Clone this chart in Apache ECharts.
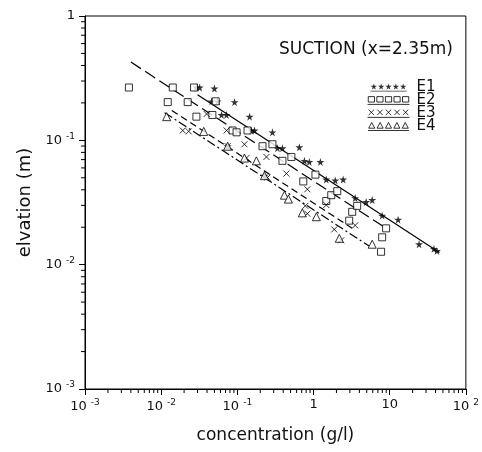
<!DOCTYPE html>
<html>
<head>
<meta charset="utf-8">
<script src="https://cdn.jsdelivr.net/npm/echarts@6/dist/echarts.min.js"></script>
<style>
  html, body { margin: 0; padding: 0; background: #fff; }
  #chart { width: 482px; height: 452px; }
</style>
</head>
<body>
<div id="chart"></div>
<script>
// Suction profile: elevation vs. concentration, four experiments (log-log)
const xTickValues = [0.001, 0.01, 0.1, 1, 10, 100];
const yTickValues = [0.001, 0.01, 0.1, 1];

const e1Conc = [0.029, 0.032, 0.050, 0.046, 0.055, 0.092, 0.062, 0.072, 0.145, 0.153, 0.168, 0.289, 0.0745, 0.336, 0.391, 0.652, 0.227, 0.759, 0.88, 1.23, 1.47, 1.93, 2.45, 3.52, 4.91, 5.89, 7.96, 12.9, 24.3, 38.1, 41.7];
const e1Elev = [0.266, 0.266, 0.261, 0.206, 0.206, 0.203, 0.160, 0.160, 0.155, 0.120, 0.120, 0.116, 0.0897, 0.0865, 0.0865, 0.088, 0.052, 0.0684, 0.067, 0.067, 0.0484, 0.0476, 0.0484, 0.0343, 0.0319, 0.0331, 0.0248, 0.0230, 0.0146, 0.0134, 0.0129];

const e2Conc = [0.00377, 0.0142, 0.027, 0.0122, 0.0223, 0.052, 0.029, 0.047, 0.0865, 0.0977, 0.136, 0.214, 0.289, 0.391, 0.512, 0.734, 1.06, 1.47, 1.71, 2.05, 3.22, 3.74, 2.94, 8.97, 7.96, 7.71];
const e2Elev = [0.266, 0.266, 0.266, 0.203, 0.203, 0.206, 0.155, 0.160, 0.120, 0.116, 0.120, 0.0897, 0.0930, 0.0684, 0.0735, 0.0467, 0.053, 0.0325, 0.0362, 0.039, 0.0266, 0.0297, 0.0226, 0.0196, 0.0166, 0.0127];

const e3Conc = [0.0395, 0.0192, 0.0230, 0.0723, 0.124, 0.241, 0.132, 0.248, 0.441, 0.83, 1.47, 0.78, 0.83, 3.52, 1.87, 2.31, 0.0745];
const e3Elev = [0.163, 0.120, 0.118, 0.120, 0.093, 0.0735, 0.0722, 0.0502, 0.054, 0.0404, 0.0302, 0.0297, 0.0257, 0.0207, 0.0192, 0.0157, 0.0897];

const e4Conc = [0.0118, 0.0362, 0.0745, 0.124, 0.178, 0.227, 0.415, 0.468, 0.713, 1.09, 2.18, 5.89];
const e4Elev = [0.155, 0.118, 0.0897, 0.072, 0.0684, 0.052, 0.0362, 0.0337, 0.0261, 0.0243, 0.0163, 0.0146];

// Power-law fit lines, given by their end points
const fitE1Conc = [0.03, 45];
const fitE1Elev = [0.233, 0.0125];
const fitE2Conc = [0.004, 9.0];
const fitE2Elev = [0.426, 0.0196];
const fitE3Conc = [0.0138, 3.22];
const fitE3Elev = [0.174, 0.0196];
const fitE4Conc = [0.0111, 5.37];
const fitE4Elev = [0.167, 0.0141];

const pairs = (xs, ys) => xs.map((x, i) => [x, ys[i]]);

const STAR = 'path://M50,0 L61,35 L98,35 L68,57 L79,91 L50,70 L21,91 L32,57 L2,35 L39,35 Z';
const CROSS = 'path://M0,0 L10,10 M10,0 L0,10';
const TRI = 'path://M5,0 L10,9 L0,9 Z';

// legend keys: five markers above an underline
function rowOf(shape, filled) {
  let p = 'path://';
  for (let i = 0; i < 5; i++) {
    const o = i * 22;
    if (shape === 'star') {
      p += `M${o + 10},0 L${o + 12.2},7 L${o + 19.6},7 L${o + 13.6},11.4 L${o + 15.8},18.2 L${o + 10},14 L${o + 4.2},18.2 L${o + 6.4},11.4 L${o + 0.4},7 L${o + 7.8},7 Z `;
    } else if (shape === 'square') {
      p += `M${o + 2},3 L${o + 18},3 L${o + 18},17 L${o + 2},17 Z `;
    } else if (shape === 'cross') {
      p += `M${o + 3},3 L${o + 17},17 M${o + 17},3 L${o + 3},17 `;
    } else {
      p += `M${o + 10},2 L${o + 18},17 L${o + 2},17 Z `;
    }
  }
  p += filled ? 'M0,22 L108,22 L108,24 L0,24 Z' : 'M0,23 L108,23';
  return p;
}

const superscripts = { b: { fontSize: 13, fontFamily: 'DejaVu Sans', color: '#111' }, s: { fontSize: 9, fontFamily: 'DejaVu Sans', color: '#111', verticalAlign: 'top', padding: [0, 0, 8, 4] } };
function powLabel(v) {
  const e = Math.round(Math.log10(v));
  if (e === 0) return '{b|1}';
  if (e === 1) return '{b|10}';
  return '{b|10}{s|' + e + '}';
}

const chart = echarts.init(document.getElementById('chart'), null, { renderer: 'canvas' });

const scatterBase = { type: 'scatter', symbolSize: 7, z: 3 };
const openStyle = { color: '#fff', borderColor: '#000', borderWidth: 1 };

const option = {
  backgroundColor: '#fff',
  animation: false,
  grid: { left: 85, right: 15, top: 16, bottom: 63, show: true, borderColor: '#000', borderWidth: 1 },
  title: {
    text: 'SUCTION (x=2.35m)',
    left: 274, top: 36,
    textStyle: { fontFamily: 'DejaVu Sans', fontSize: 17, fontWeight: 'normal', color: '#111' }
  },
  legend: {
    orient: 'vertical',
    left: 362, top: 75,
    itemWidth: 42, itemHeight: 8, itemGap: -2,
    textStyle: { fontFamily: 'DejaVu Sans', fontSize: 15, lineHeight: 13, color: '#111', padding: [0, 0, 0, 2] },
    data: [
      { name: 'E1', icon: rowOf('star', true), itemStyle: { color: '#000', borderWidth: 0 } },
      { name: 'E2', icon: rowOf('square', false), itemStyle: { color: 'transparent', borderColor: '#000', borderWidth: 1 } },
      { name: 'E3', icon: rowOf('cross', false), itemStyle: { color: 'transparent', borderColor: '#000', borderWidth: 1 } },
      { name: 'E4', icon: rowOf('tri', false), itemStyle: { color: 'transparent', borderColor: '#000', borderWidth: 1 } }
    ]
  },
  xAxis: {
    type: 'log', logBase: 10, min: xTickValues[0], max: xTickValues[xTickValues.length - 1],
    name: 'concentration (g/l)', nameLocation: 'middle', nameGap: 38,
    nameTextStyle: { fontFamily: 'DejaVu Sans', fontSize: 17, color: '#111' },
    axisLine: { lineStyle: { color: '#000', width: 1 } },
    axisTick: { inside: false, length: 6, lineStyle: { color: '#000' } },
    axisLabel: { margin: 9, formatter: powLabel, rich: superscripts, showMinLabel: true, showMaxLabel: true },
    splitLine: { show: false }
  },
  yAxis: {
    type: 'log', logBase: 10, min: yTickValues[0], max: yTickValues[yTickValues.length - 1],
    name: 'elvation (m)', nameLocation: 'middle', nameGap: 48, nameRotate: 90,
    nameTextStyle: { fontFamily: 'DejaVu Sans', fontSize: 18, color: '#111' },
    axisLine: { lineStyle: { color: '#000', width: 1 } },
    axisTick: { inside: false, length: 6, lineStyle: { color: '#000' } },
    axisLabel: { margin: 10, formatter: powLabel, rich: superscripts },
    splitLine: { show: false }
  },
  series: [
    Object.assign({}, scatterBase, { name: 'E1', symbol: STAR, symbolSize: 8, itemStyle: { color: '#000' }, data: pairs(e1Conc, e1Elev) }),
    Object.assign({}, scatterBase, { name: 'E2', symbol: 'rect', itemStyle: openStyle, data: pairs(e2Conc, e2Elev) }),
    Object.assign({}, scatterBase, { name: 'E3', symbol: CROSS, symbolSize: 6, itemStyle: { color: 'transparent', borderColor: '#000', borderWidth: 1 }, data: pairs(e3Conc, e3Elev) }),
    Object.assign({}, scatterBase, { name: 'E4', symbol: TRI, symbolSize: 8, itemStyle: openStyle, data: pairs(e4Conc, e4Elev) }),
    { type: 'line', name: 'fitE1', data: pairs(fitE1Conc, fitE1Elev), symbol: 'none', lineStyle: { color: '#000', width: 1.2, type: 'solid' }, z: 2 },
    { type: 'line', name: 'fitE2', data: pairs(fitE2Conc, fitE2Elev), symbol: 'none', lineStyle: { color: '#000', width: 1.2, type: [12, 5] }, z: 2 },
    { type: 'line', name: 'fitE3', data: pairs(fitE3Conc, fitE3Elev), symbol: 'none', lineStyle: { color: '#000', width: 1.2, type: [7, 4] }, z: 2 },
    { type: 'line', name: 'fitE4', data: pairs(fitE4Conc, fitE4Elev), symbol: 'none', lineStyle: { color: '#000', width: 1.2, type: [9, 3, 2, 3] }, z: 2 }
  ]
};
chart.setOption(option);

// Minor ticks at 2..9 within each decade, placed through the axis scales
function minorTicks() {
  const els = [];
  const bottom = chart.convertToPixel({ yAxisIndex: 0 }, yTickValues[0]);
  const left = chart.convertToPixel({ xAxisIndex: 0 }, xTickValues[0]);
  for (let d = 0; d < xTickValues.length - 1; d++) {
    for (let k = 2; k <= 9; k++) {
      const px = chart.convertToPixel({ xAxisIndex: 0 }, xTickValues[d] * k);
      els.push({ type: 'line', shape: { x1: px, y1: bottom, x2: px, y2: bottom + 4 }, style: { stroke: '#000', lineWidth: 1 }, silent: true });
    }
  }
  for (let d = 0; d < yTickValues.length - 1; d++) {
    for (let k = 2; k <= 9; k++) {
      const py = chart.convertToPixel({ yAxisIndex: 0 }, yTickValues[d] * k);
      els.push({ type: 'line', shape: { x1: left - 4, y1: py, x2: left, y2: py }, style: { stroke: '#000', lineWidth: 1 }, silent: true });
    }
  }
  chart.setOption({ graphic: els });
}
minorTicks();
</script>
</body>
</html>
